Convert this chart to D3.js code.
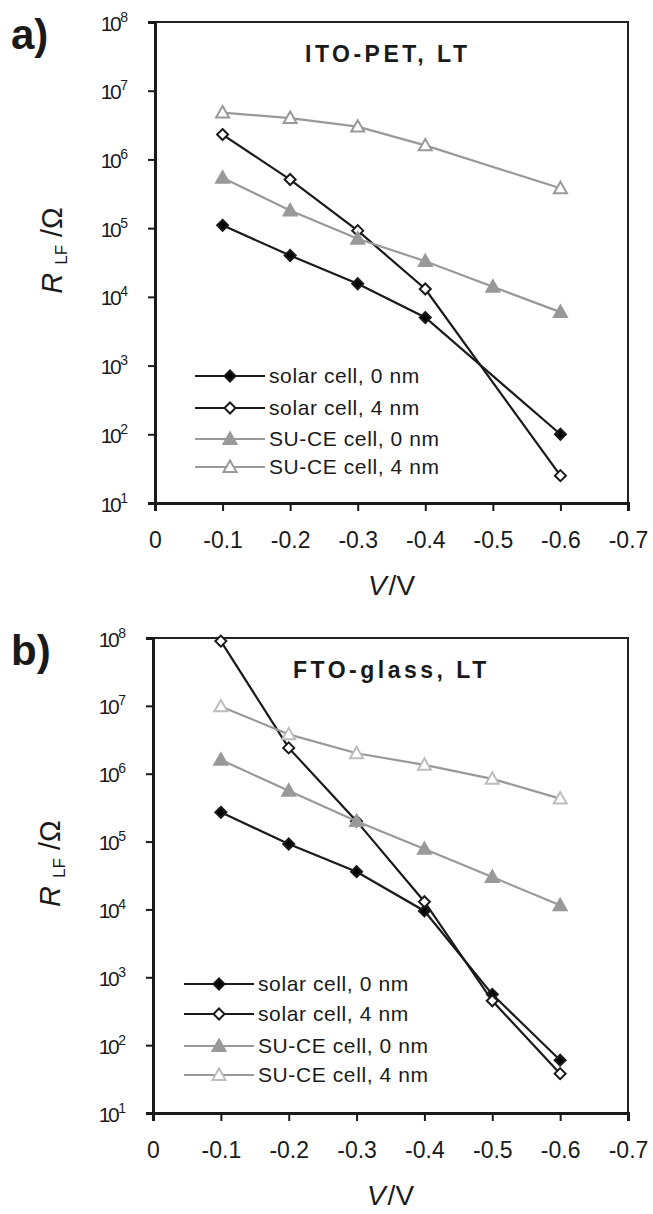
<!DOCTYPE html>
<html>
<head>
<meta charset="utf-8">
<script src="https://cdn.jsdelivr.net/npm/d3@7"></script>
<style>
  html, body { margin: 0; padding: 0; background: #fff; }
  svg { display: block; font-family: "Liberation Sans", Arial, sans-serif; }
</style>
</head>
<body>
<svg id="chart" width="653" height="1214"></svg>
<script>
// bias voltage (V) where measurements were taken
const voltages = [-0.1, -0.2, -0.3, -0.4, -0.5, -0.6];
const xTicks = [0, -0.1, -0.2, -0.3, -0.4, -0.5, -0.6, -0.7];
const yTicks = [1e1, 1e2, 1e3, 1e4, 1e5, 1e6, 1e7, 1e8];

const seriesNames = ['solar cell, 0 nm', 'solar cell, 4 nm', 'SU-CE cell, 0 nm', 'SU-CE cell, 4 nm'];

// panel a) ITO-PET, LT  (null = no point)
const aSolar0 = [1.1e5, 4.0e4, 1.55e4, 5.0e3, null, 100];
const aSolar4 = [2.3e6, 5.1e5, 9.2e4, 1.3e4, null, 25];
const aSuce0  = [5.4e5, 1.8e5, 7.0e4, 3.3e4, 1.4e4, 6.0e3];
const aSuce4  = [4.8e6, 4.0e6, 3.0e6, 1.6e6, null, 3.8e5];

// panel b) FTO-glass, LT
const bSolar0 = [2.7e5, 9.2e4, 3.6e4, 9.5e3, 560, 60];
const bSolar4 = [9.0e7, 2.4e6, 2.0e5, 1.3e4, 450, 38];
const bSuce0  = [1.6e6, 5.6e5, 2.0e5, 7.8e4, 3.0e4, 1.15e4];
const bSuce4  = [9.8e6, 3.8e6, 2.0e6, 1.35e6, 8.4e5, 4.3e5];

const svg = d3.select('#chart');

// 系列樣式：線色 / 標記
const styles = [
  { line: '#1a1a1a', shape: 'diamond', fill: '#000', stroke: '#1a1a1a' },
  { line: '#1a1a1a', shape: 'diamond', fill: '#fff', stroke: '#1a1a1a' },
  { line: '#999', shape: 'triangle', fill: '#999', stroke: '#999' },
  { line: '#999', shape: 'triangle', fill: '#fff', stroke: '#999' },
];

function markerPath(shape) {
  if (shape === 'diamond') {
    const r = 5.5;
    return `M0,${-r}L${r},0L0,${r}L${-r},0Z`;
  }
  const s = 6.5;
  return `M0,${-s}L${s},${s * 0.75}L${-s},${s * 0.75}Z`;
}

function drawPanel(cfg) {
  const { top, bottom, left, right, series, title, titleX, label, legendY, legendX, openTriStroke } = cfg;
  const g = svg.append('g');

  const x = d3.scaleLinear().domain([0, -0.7]).range([left, right]);
  const y = d3.scaleLog().domain([1e1, 1e8]).range([bottom, top]);

  // frame
  g.append('rect')
    .attr('x', left).attr('y', top)
    .attr('width', right - left).attr('height', bottom - top)
    .attr('fill', 'none').attr('stroke', '#222').attr('stroke-width', 2);

  // y axis
  const yAxis = g.append('g')
    .attr('transform', `translate(${left},0)`)
    .call(d3.axisLeft(y).tickValues(yTicks).tickSize(7).tickFormat(''));
  yAxis.select('.domain').attr('stroke', '#1a1a1a').attr('stroke-width', 3);
  yAxis.selectAll('.tick line').attr('stroke', '#1a1a1a').attr('stroke-width', 2);
  yAxis.selectAll('.tick').append('text')
    .attr('x', -27).attr('y', 8)
    .attr('text-anchor', 'end')
    .attr('fill', '#1a1a1a')
    .style('font-size', '21px')
    .each(function (d) {
      const t = d3.select(this);
      t.append('tspan').attr('letter-spacing', '-2.5').text('10');
      t.append('tspan').attr('dx', 1).attr('dy', -9).style('font-size', '14px').text(Math.round(Math.log10(d)));
    });

  // x axis
  const xAxis = g.append('g')
    .attr('transform', `translate(0,${bottom})`)
    .call(d3.axisBottom(x).tickValues(xTicks).tickSize(8).tickPadding(21)
      .tickFormat(d => (d === 0 ? '0' : d3.format('.1f')(d).replace('−', '-'))));
  xAxis.select('.domain').attr('stroke', '#1a1a1a').attr('stroke-width', 3);
  xAxis.selectAll('.tick line').attr('stroke', '#1a1a1a').attr('stroke-width', 2);
  xAxis.selectAll('.tick text').attr('fill', '#1a1a1a').style('font-size', '23px')
    .style('font-family', '"Liberation Sans", Arial, sans-serif');

  // axis titles
  const yt = g.append('text')
    .attr('transform', `translate(${left - 93},${top + (bottom - top) * 0.475}) rotate(-90)`)
    .attr('text-anchor', 'middle')
    .attr('fill', '#1a1a1a')
    .style('font-size', '29px');
  yt.append('tspan').style('font-style', 'italic').text('R');
  yt.append('tspan').attr('dy', 5).attr('dx', 8).style('font-size', '17px').text('LF');
  yt.append('tspan').attr('dy', -5).attr('dx', 8).text('/Ω');

  const xt = g.append('text')
    .attr('x', (left + right) / 2).attr('y', bottom + 92)
    .attr('text-anchor', 'middle')
    .attr('fill', '#1a1a1a')
    .style('font-size', '28px');
  xt.append('tspan').style('font-style', 'italic').text('V');
  xt.append('tspan').attr('dx', 2).text('/V');

  // panel label + title
  g.append('text')
    .attr('x', 11).attr('y', top + 27)
    .attr('fill', '#1a1a1a')
    .style('font-size', '42px').style('font-weight', 'bold')
    .text(label);
  g.append('text')
    .attr('x', titleX).attr('y', top + 40)
    .attr('fill', '#1a1a1a')
    .style('font-size', '23px').style('font-weight', 'bold')
    .attr('letter-spacing', '3.5')
    .text(title);

  // lines and markers
  const line = d3.line()
    .defined(d => d.v != null)
    .x(d => x(d.x)).y(d => y(d.v));

  series.forEach((vals, i) => {
    const st = styles[i];
    const pts = voltages.map((v, j) => ({ x: v, v: vals[j] })).filter(d => d.v != null);
    g.append('path')
      .datum(pts)
      .attr('d', line)
      .attr('fill', 'none')
      .attr('stroke', st.line)
      .attr('stroke-width', 2.2);
    g.selectAll(null)
      .data(pts)
      .join('path')
      .attr('transform', d => `translate(${x(d.x)},${y(d.v)})`)
      .attr('d', markerPath(st.shape))
      .attr('fill', st.fill)
      .attr('stroke', i === 3 && openTriStroke ? openTriStroke : st.stroke)
      .attr('stroke-width', 2);
  });

  // legend
  const lg = g.append('g');
  seriesNames.forEach((name, i) => {
    const st = styles[i];
    const ly = legendY[i];
    lg.append('line')
      .attr('x1', legendX).attr('x2', legendX + 70)
      .attr('y1', ly).attr('y2', ly)
      .attr('stroke', st.line).attr('stroke-width', 2.2);
    lg.append('path')
      .attr('transform', `translate(${legendX + 35},${ly})`)
      .attr('d', markerPath(st.shape))
      .attr('fill', st.fill)
      .attr('stroke', i === 3 && openTriStroke ? openTriStroke : st.stroke)
      .attr('stroke-width', 2);
    lg.append('text')
      .attr('x', legendX + 74).attr('y', ly + 7)
      .attr('fill', '#1a1a1a')
      .style('font-size', '21px')
      .attr('letter-spacing', '0.6')
      .text(name);
  });
}

drawPanel({
  top: 22, bottom: 503, left: 155, right: 628,
  series: [aSolar0, aSolar4, aSuce0, aSuce4],
  title: 'ITO-PET, LT', titleX: 305, label: 'a)',
  legendX: 195, legendY: [376, 408, 439, 467],
});

drawPanel({
  top: 638, bottom: 1113, left: 153, right: 628,
  series: [bSolar0, bSolar4, bSuce0, bSuce4],
  title: 'FTO-glass, LT', titleX: 293, label: 'b)',
  legendX: 184, legendY: [984, 1014, 1046, 1075],
  openTriStroke: '#bdbdbd',
});
</script>
</body>
</html>
